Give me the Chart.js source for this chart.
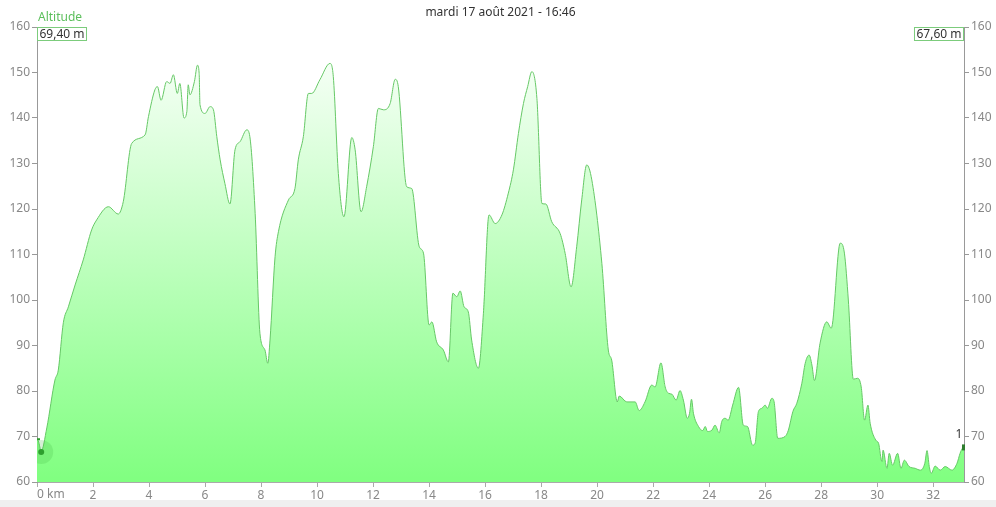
<!DOCTYPE html>
<html>
<head>
<meta charset="utf-8">
<script src="https://cdn.jsdelivr.net/npm/chart.js@4/dist/chart.umd.min.js"></script>
<style>
  body { margin: 0; background: #efefef; }
  #wrap { width: 996px; height: 500px; background: #fff; }
</style>
</head>
<body>
<div id="wrap"><canvas id="chart" width="996" height="500"></canvas></div>
<script>
const distanceKm = [
  0.00, 0.05, 0.15, 0.35, 0.64, 0.76, 0.94, 1.12, 1.36, 1.65, 1.95, 2.13, 2.55, 2.90, 3.08, 3.38,
  3.86, 3.98, 4.21, 4.30, 4.43, 4.63, 4.75, 4.87, 5.01, 5.10, 5.25, 5.35, 5.40, 5.46, 5.62, 5.73,
  5.79, 5.82, 6.00, 6.18, 6.30, 6.42, 6.54, 6.71, 6.89, 7.07, 7.25, 7.49, 7.60, 7.79, 7.96, 8.14,
  8.24, 8.32, 8.50, 8.62, 8.98, 9.21, 9.33, 9.51, 9.69, 9.81, 10.10, 10.46, 10.58, 10.76, 10.96,
  11.24, 11.36, 11.57, 11.77, 12.01, 12.19, 12.37, 12.61, 12.79, 12.90, 13.20, 13.38, 13.65, 13.80,
  14.00, 14.10, 14.27, 14.51, 14.69, 14.85, 14.99, 15.11, 15.25, 15.40, 15.52, 15.76, 15.94, 16.14,
  16.36, 16.60, 16.83, 17.01, 17.19, 17.37, 17.52, 17.67, 17.85, 18.03, 18.17, 18.38, 18.68, 18.86,
  19.07, 19.27, 19.45, 19.63, 19.81, 20.17, 20.40, 20.52, 20.72, 20.79, 21.06, 21.36, 21.50, 21.71,
  21.95, 22.07, 22.28, 22.43, 22.55, 22.67, 22.82, 22.96, 23.08, 23.22, 23.30, 23.37, 23.44, 23.62,
  23.77, 23.86, 23.94, 24.10, 24.21, 24.36, 24.45, 24.57, 24.68, 24.84, 25.05, 25.22, 25.37, 25.55,
  25.64, 25.76, 25.88, 26.00, 26.08, 26.24, 26.32, 26.45, 26.71, 26.83, 26.99, 27.13, 27.31, 27.43,
  27.57, 27.67, 27.76, 27.96, 28.20, 28.36, 28.68, 28.83, 28.97, 29.15, 29.30, 29.43, 29.55, 29.67,
  29.75, 29.95, 30.05, 30.17, 30.21, 30.35, 30.43, 30.55, 30.73, 30.85, 30.97, 31.14, 31.36, 31.54,
  31.70, 31.78, 31.86, 31.93, 32.07, 32.25, 32.43, 32.67, 32.85, 32.96, 33.04, 33.10
];
const altitudeM = [
  69.4, 69.0, 66.8, 71.9, 82.4, 84.6, 95.0, 98.5, 103.3, 108.8, 115.4, 117.6, 120.5, 118.9, 121.6, 134.4,
  136.3, 140.3, 146.2, 146.9, 143.9, 148.0, 147.6, 149.5, 145.4, 147.6, 140.0, 141.4, 147.3, 145.1, 148.0, 151.6,
  149.8, 142.9, 141.0, 142.5, 141.8, 135.9, 130.8, 125.6, 121.1, 133.0, 134.8, 137.4, 135.9, 119.0, 92.7, 89.0,
  86.1, 91.2, 109.5, 115.0, 122.0, 124.5, 130.8, 135.9, 145.4, 145.4, 148.4, 152.0, 149.1, 127.8, 118.3,
  135.7, 133.0, 119.4, 124.9, 133.7, 142.1, 141.8, 143.2, 148.5, 146.9, 124.9, 124.5, 111.7, 110.3,
  94.5, 95.2, 90.8, 89.0, 86.4, 101.5, 100.7, 102.0, 98.5, 97.4, 91.2, 85.0, 97.1, 118.7,
  116.8, 118.7, 123.5, 128.6, 136.6, 143.2, 146.9, 150.2, 144.3, 121.2, 121.1, 117.2, 114.6, 110.2,
  102.9, 111.7, 122.0, 129.7, 126.4, 108.0, 89.0, 86.8, 77.6, 78.9, 77.6, 77.6, 75.7, 77.6,
  81.3, 80.9, 86.2, 80.9, 79.5, 79.3, 78.0, 80.1, 78.0, 74.0, 75.1, 78.2, 75.1, 72.2,
  71.3, 72.2, 71.1, 71.4, 72.5, 70.8, 73.3, 74.0, 73.6, 76.9, 80.8, 72.5, 72.2, 68.1,
  68.5, 75.5, 76.2, 76.9, 76.2, 78.4, 77.6, 69.6, 70.0, 71.4, 75.5, 77.3, 81.7, 86.1,
  87.9, 85.7, 82.3, 90.5, 95.2, 93.8, 112.5, 110.3, 100.0, 82.6, 82.8, 80.9, 73.6, 76.9,
  72.9, 69.2, 68.5, 64.5, 67.0, 63.0, 66.3, 63.7, 66.3, 63.0, 64.8, 63.4, 63.0, 62.6,
  64.1, 66.9, 63.4, 61.9, 63.5, 62.6, 63.4, 62.6, 64.1, 66.3, 67.4, 67.6
];
const xTickValues = [0, 2, 4, 6, 8, 10, 12, 14, 16, 18, 20, 22, 24, 26, 28, 30, 32];
const cursorPoint = [{ x: 0.15, y: 66.6 }];
const titleText = 'mardi 17 août 2021 - 16:46';
const seriesLabel = 'Altitude';
const startLabel = '69,40 m';
const endLabel = '67,60 m';

const FONT = "'Noto Sans', sans-serif";
const GREEN_LINE = '#66c866';

const points = distanceKm.map((d, i) => ({ x: d, y: altitudeM[i] }));

// textes et cadres autour du graphique
const overlay = {
  id: 'overlay',
  afterDraw(chart) {
    const { ctx, chartArea: a, scales } = chart;
    ctx.save();
    ctx.font = '12px ' + FONT;
    ctx.textBaseline = 'middle';

    ctx.fillStyle = '#333';
    ctx.textAlign = 'center';
    ctx.fillText(titleText, (a.left + a.right) / 2, 13);

    ctx.fillStyle = '#5cbf5c';
    ctx.textAlign = 'left';
    ctx.fillText(seriesLabel, a.left + 1, 18);

    // cadres des valeurs de début / fin
    ctx.strokeStyle = '#7ccc7c';
    ctx.lineWidth = 1;
    let w = ctx.measureText(startLabel).width + 4;
    ctx.fillStyle = '#fff';
    ctx.fillRect(a.left, 27.5, w, 13);
    ctx.strokeRect(a.left + 0.5, 27.5, w, 13);
    ctx.fillStyle = '#333';
    ctx.fillText(startLabel, a.left + 2.5, 34.5);

    w = ctx.measureText(endLabel).width + 4;
    ctx.fillStyle = '#fff';
    ctx.fillRect(a.right - w - 1, 27.5, w, 13);
    ctx.strokeRect(a.right - w - 0.5, 27.5, w, 13);
    ctx.fillStyle = '#333';
    ctx.fillText(endLabel, a.right - w + 1.5, 34.5);

    // "0 km" aligné à gauche sous l'axe
    ctx.fillStyle = '#888';
    ctx.textAlign = 'left';
    ctx.fillText('0 km', a.left, a.bottom + 13);

    // petits repères début / fin
    const y0 = scales.y.getPixelForValue(altitudeM[0]);
    ctx.strokeStyle = '#2e9e2e';
    ctx.lineWidth = 2;
    ctx.beginPath();
    ctx.moveTo(a.left, y0);
    ctx.lineTo(a.left + 3, y0);
    ctx.stroke();
    const y1 = scales.y.getPixelForValue(altitudeM[altitudeM.length - 1]);
    ctx.fillStyle = '#2e7d2e';
    ctx.fillRect(a.right - 2, y1 - 3, 3, 6);
    ctx.fillStyle = '#333';
    ctx.textAlign = 'center';
    ctx.fillText('1', a.right - 5, y1 - 13);
    ctx.restore();
  }
};

const ctx = document.getElementById('chart').getContext('2d');
new Chart(ctx, {
  type: 'line',
  data: {
    datasets: [
      {
        data: cursorPoint,
        showLine: false,
        pointRadius: 3,
        pointBackgroundColor: '#2e9e2e',
        pointBorderWidth: 0,
        order: 0
      },
      {
        data: cursorPoint,
        showLine: false,
        pointRadius: 12,
        pointBackgroundColor: 'rgba(70,180,70,0.22)',
        pointBorderWidth: 0,
        order: 1
      },
      {
        label: seriesLabel,
        data: points,
        borderColor: GREEN_LINE,
        borderWidth: 1,
        pointRadius: 0,
        cubicInterpolationMode: 'monotone',
        fill: 'start',
        backgroundColor(c) {
          const area = c.chart.chartArea;
          if (!area) return '#b0ffb0';
          const g = c.chart.ctx.createLinearGradient(0, area.top, 0, area.bottom);
          g.addColorStop(0, '#ffffff');
          g.addColorStop(1, '#80ff80');
          return g;
        },
        order: 2
      }
    ]
  },
  options: {
    responsive: false,
    animation: false,
    layout: { padding: { top: 27, bottom: 0 } },
    plugins: { legend: { display: false }, tooltip: { enabled: false } },
    scales: {
      x: {
        type: 'linear',
        min: 0,
        max: 33.1,
        afterBuildTicks(s) { s.ticks = xTickValues.map(v => ({ value: v })); },
        grid: { drawOnChartArea: false, color: '#aaa', tickLength: 5 },
        border: { color: '#aaa' },
        ticks: {
          color: '#888',
          font: { family: FONT, size: 12 },
          padding: 1,
          maxRotation: 0,
          autoSkip: false,
          callback: v => v === 0 ? '' : String(v)
        },
        afterFit(s) { s.height = 18; }
      },
      y: {
        position: 'left',
        min: 60,
        max: 160,
        grid: { drawOnChartArea: false, color: '#999', tickLength: 5 },
        border: { color: '#999' },
        ticks: { stepSize: 10, color: '#888', font: { family: FONT, size: 12 }, padding: 2 },
        afterFit(s) { s.width = 37; }
      },
      y2: {
        position: 'right',
        min: 60,
        max: 160,
        grid: { drawOnChartArea: false, color: '#999', tickLength: 5 },
        border: { color: '#999' },
        ticks: { stepSize: 10, color: '#888', font: { family: FONT, size: 12 }, padding: 2 },
        afterFit(s) { s.width = 32; }
      }
    }
  },
  plugins: [overlay]
});
</script>
</body>
</html>
